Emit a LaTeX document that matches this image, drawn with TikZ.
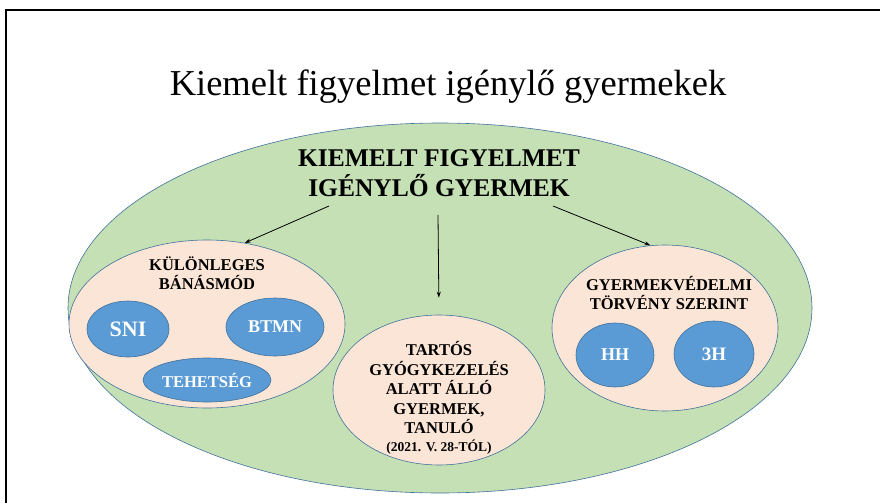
\documentclass[tikz,border=0pt]{standalone}
\usepackage{fontspec}
\setmainfont{Liberation Serif}
\usepackage{tikz}
\usetikzlibrary{arrows.meta,positioning,shapes.geometric}

\definecolor{zold}{HTML}{C5E0B4}
\definecolor{rozsa}{HTML}{FBE5D6}
\definecolor{kek}{HTML}{5B9BD5}
\definecolor{szegely}{HTML}{41719C}

\begin{document}
\begin{tikzpicture}[x=1pt,y=-1pt,
    ov/.style={ellipse, draw=szegely, line width=0.6pt, inner sep=0pt},
    big/.style={ov, fill=zold},
    grp/.style={ov, fill=rozsa},
    leaf/.style={ov, fill=kek, text=white, font=\bfseries\fontsize{18}{20}\selectfont},
    lbl/.style={align=center, font=\bfseries\fontsize{16.5}{19.5}\selectfont},
    arr/.style={-{Stealth[length=6pt,width=4pt]}, line width=0.8pt}
  ]
    \useasboundingbox (0,0) rectangle (880,503);
    \draw[line width=2pt] (6,503) -- (6,10) -- (880,10);

    \node[anchor=base, font=\fontsize{36.5}{40}\selectfont] (cim) at (448,95) {Kiemelt figyelmet igénylő gyermekek};

    % nagy ellipszis
    \node[big, minimum width=744pt, minimum height=370pt] (kf) at (440,308) {};
    \node[align=center, font=\bfseries\fontsize{25.5}{30}\selectfont] (kfs) at (439,173) {KIEMELT FIGYELMET\\IGÉNYLŐ GYERMEK};

    % kulonleges banasmod
    \node[grp, minimum width=276pt, minimum height=168pt] (kb) at (207,324) {};
    \node[lbl] (kbs) at (207,273) {KÜLÖNLEGES\\BÁNÁSMÓD};
    \node[leaf, minimum width=82pt, minimum height=56pt, font=\bfseries\fontsize{22}{24}\selectfont] (sni) at (128,329) {SNI};
    \node[leaf, minimum width=98pt, minimum height=58pt] (btmn) at (275,327) {BTMN};
    \node[leaf, minimum width=128pt, minimum height=44pt, font=\bfseries\fontsize{16.5}{18}\selectfont] (teh) at (207,380) {TEHETSÉG};

    % tartos gyogykezeles
    \node[grp, minimum width=212pt, minimum height=150pt] (tg) at (439,390) {};
    \node[lbl] (tgs) at (439,398) {TARTÓS\\GYÓGYKEZELÉS\\ALATT ÁLLÓ\\GYERMEK,\\TANULÓ\\[-2pt]{\fontsize{13.5}{15}\selectfont(2021. V. 28-TÓL)}};

    % gyermekvedelmi torveny
    \node[grp, minimum width=226pt, minimum height=166pt] (gv) at (665,328) {};
    \node[lbl] (gvs) at (669,293) {GYERMEKVÉDELMI\\TÖRVÉNY SZERINT};
    \node[leaf, minimum width=78pt, minimum height=64pt] (hh) at (615,355) {HH};
    \node[leaf, minimum width=80pt, minimum height=66pt, font=\bfseries\fontsize{19}{20}\selectfont] (h3) at (714,354) {3H};

    \coordinate (b1) at (329,206);
    \coordinate (b2) at (438,215);
    \coordinate (b3) at (553,206);
    \draw[arr] (b1) -- (kb.65);
    \draw[arr, shorten >=17pt] (b2) -- (tg.north);
    \draw[arr] (b3) -- (gv.100);
\end{tikzpicture}
\end{document}
